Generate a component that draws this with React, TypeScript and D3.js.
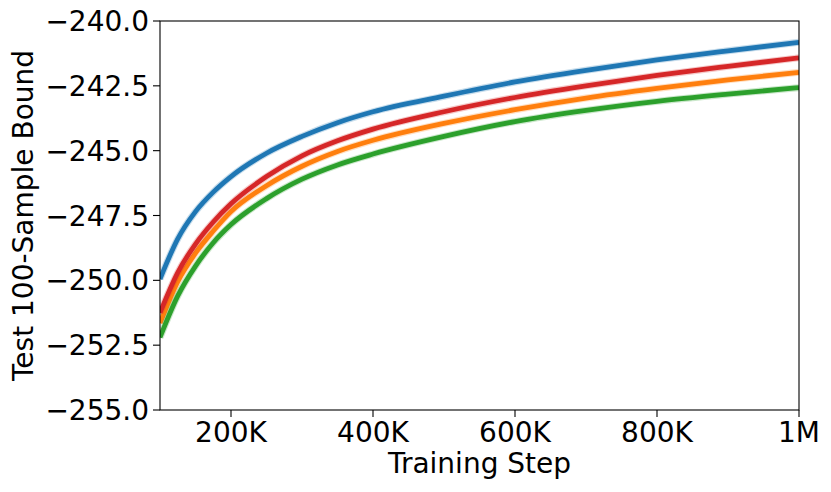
import React from "react";
import * as d3 from "d3";

// training steps (thousands) at which the curves were read
const steps = [100, 125, 150, 175, 200, 250, 300, 350, 400, 500, 600, 700, 800, 900, 1000];

const blueBound = [-249.95, -248.4, -247.35, -246.6, -246.0, -245.1, -244.45, -243.92, -243.5, -242.9, -242.35, -241.9, -241.5, -241.15, -240.82];
const orangeBound = [-251.65, -250.05, -248.95, -248.1, -247.35, -246.35, -245.6, -245.03, -244.6, -243.95, -243.42, -242.97, -242.6, -242.27, -241.98];
const greenBound = [-252.2, -250.6, -249.45, -248.55, -247.85, -246.85, -246.1, -245.55, -245.13, -244.45, -243.88, -243.45, -243.1, -242.82, -242.57];
const redBound = [-251.25, -249.7, -248.6, -247.75, -247.05, -246.0, -245.2, -244.62, -244.17, -243.5, -242.95, -242.5, -242.1, -241.75, -241.42];

const series = [
	{name: "C0", color: "#1f77b4", values: blueBound},
	{name: "C1", color: "#ff7f0e", values: orangeBound},
	{name: "C2", color: "#2ca02c", values: greenBound},
	{name: "C3", color: "#d62728", values: redBound},
];

const xTicks = [200, 400, 600, 800, 1000];
const xTickLabels = ["200K", "400K", "600K", "800K", "1M"];
const yTicks = [-255, -252.5, -250, -247.5, -245, -242.5, -240];

const W = 831;
const H = 492;
const margin = {left: 160, right: 32, top: 21, bottom: 82};
const font = "'DejaVu Sans', sans-serif";

const App: React.FC = () => {
	const x = d3
		.scaleLinear()
		.domain([100, 1000])
		.range([margin.left, W - margin.right]);
	const y = d3
		.scaleLinear()
		.domain([-255, -240])
		.range([H - margin.bottom, margin.top]);

	const line = d3
		.line<number>()
		.x((_, i) => x(steps[i]))
		.y((d) => y(d))
		.curve(d3.curveMonotoneX);

	const fmtY = (v: number) => d3.format(".1f")(v).replace("-", "\u2212");

	return (
		<svg
			width={W}
			height={H}
			style={{position: "absolute", left: 0, top: 0, background: "#fff"}}
			fontFamily={font}
		>
			<defs>
				<clipPath id="plot">
					<rect
						x={x(100)}
						y={y(-240)}
						width={x(1000) - x(100)}
						height={y(-255) - y(-240)}
					/>
				</clipPath>
			</defs>

			<g clipPath="url(#plot)">
				{series.map((s) => (
					<g key={s.name}>
						{/* faint spread band around each run */}
						<path
							d={line(s.values) || ""}
							fill="none"
							stroke={s.color}
							strokeOpacity={0.25}
							strokeWidth={7}
						/>
						<path
							d={line(s.values) || ""}
							fill="none"
							stroke={s.color}
							strokeWidth={4.8}
						/>
					</g>
				))}
			</g>

			{/* spines */}
			<rect
				x={x(100)}
				y={y(-240)}
				width={x(1000) - x(100)}
				height={y(-255) - y(-240)}
				fill="none"
				stroke="#000"
				strokeWidth={1.1}
			/>

			{/* y axis */}
			{yTicks.map((t) => (
				<g key={t}>
					<line x1={x(100) - 7} x2={x(100)} y1={y(t)} y2={y(t)} stroke="#000" strokeWidth={1.1} />
					<text
						x={x(100) - 11}
						y={y(t) + 10}
						textAnchor="end"
						fontSize={28}
						fill="#000"
					>
						{fmtY(t)}
					</text>
				</g>
			))}

			{/* x axis */}
			{xTicks.map((t, i) => (
				<g key={t}>
					<line x1={x(t)} x2={x(t)} y1={y(-255)} y2={y(-255) + 7} stroke="#000" strokeWidth={1.1} />
					<text x={x(t)} y={442} textAnchor="middle" fontSize={28} fill="#000">
						{xTickLabels[i]}
					</text>
				</g>
			))}

			<text x={(x(100) + x(1000)) / 2} y={473} textAnchor="middle" fontSize={28} fill="#000">
				Training Step
			</text>
			<text
				transform={`translate(33, ${(y(-240) + y(-255)) / 2}) rotate(-90)`}
				textAnchor="middle"
				fontSize={28}
				fill="#000"
			>
				Test 100-Sample Bound
			</text>
		</svg>
	);
};

export default App;
